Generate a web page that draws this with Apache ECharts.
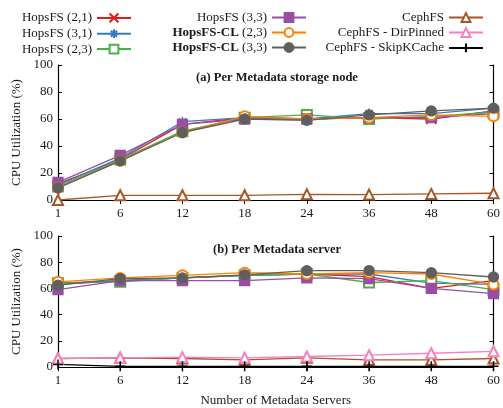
<!DOCTYPE html>
<html>
<head>
<meta charset="utf-8">
<script src="https://cdn.jsdelivr.net/npm/echarts@6/dist/echarts.min.js"></script>
<style>
  html, body { margin: 0; padding: 0; background: #fff; }
  #chart { width: 503px; height: 408px; }
</style>
</head>
<body>
<div id="chart"></div>
<script>
// Number of metadata servers (categorical x axis)
const servers = ['1', '6', '12', '18', '24', '36', '48', '60'];
const yTicks = [0, 20, 40, 60, 80, 100];

// (a) CPU utilization per metadata storage node (%)
const storageHops21 = [12, 30, 56, 61, 60, 61, 60, 66];
const storageHops31 = [11, 31, 58, 61, 60, 64, 64, 68];
const storageHops23 = [10, 30, 51, 61, 63, 60, 62, 65];
const storageHops33 = [13, 33, 56, 60, 60, 61, 61, 64];
const storageCL23   = [9, 29, 50, 62, 60, 61, 63, 62];
const storageCL33   = [9, 29, 50, 60, 59, 63, 66, 68];
const storageCeph   = [0, 3.5, 3.5, 3.5, 4.2, 4, 4.5, 5];

// (b) CPU utilization per metadata server (%)
const serverHops21 = [63, 66, 68, 70, 71, 69, 60, 66];
const serverHops31 = [64, 66, 68, 70, 71, 71, 64, 63];
const serverHops23 = [64, 65, 68, 70, 71, 64.5, 66, 59];
const serverHops33 = [59, 66, 66, 66, 68, 67.5, 60, 56];
const serverCL23   = [65, 68, 70, 72, 71, 72, 71, 63];
const serverCL33   = [62.5, 67.5, 68, 70.4, 73.5, 73.6, 72, 68.7];
const serverCeph   = [6.5, 7, 6.5, 5.5, 7, 5.5, 5.5, 6.5];
const serverDirPin = [6.5, 7, 7.5, 7, 8, 9, 10.5, 12];
const serverSkipK  = [2, 0.5, 0.5, 0.5, 0.5, 0.5, 0.5, 0.5];

const FONT = 'Liberation Serif';
const TXT = '#1a1a1a';

const CROSS = 'path://M0,0 L10,10 M10,0 L0,10';
const STAR = 'path://M5,0 L5,10 M0,5 L10,5 M1.5,1.5 L8.5,8.5 M8.5,1.5 L1.5,8.5';
const PLUS = 'path://M5,0 L5,10 M0,5 L10,5';

// name -> [colour, symbol, closed shape]
const styles = {
  'HopsFS (2,1)':       ['#e41a1c', CROSS, false],
  'HopsFS (3,1)':       ['#377eb8', STAR, false],
  'HopsFS (2,3)':       ['#4daf4a', 'emptyRect', true],
  'HopsFS (3,3)':       ['#984ea3', 'rect', true],
  'HopsFS-CL (2,3)':    ['#ff7f00', 'emptyCircle', true],
  'HopsFS-CL (3,3)':    ['#5f5f5f', 'circle', true],
  'CephFS':             ['#a65628', 'emptyTriangle', true],
  'CephFS - DirPinned': ['#f781bf', 'emptyTriangle', true],
  'CephFS - SkipKCache':['#000000', PLUS, false]
};

function mk(name, data, gi) {
  const [color, symbol, closed] = styles[name];
  return {
    name, type: 'line', data,
    xAxisIndex: gi * 2, yAxisIndex: gi * 2,
    symbol, symbolSize: 10,
    showSymbol: true,
    lineStyle: { color, width: 1.3 },
    itemStyle: closed ? { color, borderColor: color, borderWidth: 1.3 }
                      : { color: 'none', borderColor: color, borderWidth: 1.5 },
    emphasis: { disabled: true },
    animation: false
  };
}

const series = [
  mk('HopsFS (2,1)', storageHops21, 0),
  mk('HopsFS (3,1)', storageHops31, 0),
  mk('HopsFS (2,3)', storageHops23, 0),
  mk('HopsFS (3,3)', storageHops33, 0),
  mk('HopsFS-CL (2,3)', storageCL23, 0),
  mk('HopsFS-CL (3,3)', storageCL33, 0),
  mk('CephFS', storageCeph, 0),
  mk('HopsFS (2,1)', serverHops21, 1),
  mk('HopsFS (3,1)', serverHops31, 1),
  mk('HopsFS (2,3)', serverHops23, 1),
  mk('HopsFS (3,3)', serverHops33, 1),
  mk('HopsFS-CL (2,3)', serverCL23, 1),
  mk('HopsFS-CL (3,3)', serverCL33, 1),
  mk('CephFS', serverCeph, 1),
  mk('CephFS - DirPinned', serverDirPin, 1),
  mk('CephFS - SkipKCache', serverSkipK, 1)
];

const grids = [
  { left: 58, right: 7, top: 65, height: 135 },
  { left: 58, right: 7, top: 236, height: 135.5 }
];

function xAxes(gi) {
  const base = {
    type: 'category', data: servers, gridIndex: gi, boundaryGap: false,
    axisLine: { lineStyle: { color: '#000', width: 1.2 } },
    axisTick: { inside: true, length: 4, alignWithLabel: true, lineStyle: { color: '#000' } },
    splitLine: { show: false }
  };
  return [
    Object.assign({}, base, {
      position: 'bottom',
      axisLabel: { fontFamily: FONT, fontSize: 13, color: TXT, margin: 7 },
      name: gi === 1 ? 'Number of Metadata Servers' : '',
      nameLocation: 'middle', nameGap: 27,
      nameTextStyle: { fontFamily: FONT, fontSize: 13, color: TXT }
    }),
    Object.assign({}, base, { position: 'top', axisLabel: { show: false } })
  ];
}

function yAxes(gi) {
  const base = {
    type: 'value', gridIndex: gi, min: 0, max: 100, interval: 20,
    axisLine: { show: true, lineStyle: { color: '#000', width: 1.2 } },
    axisTick: { show: true, inside: true, length: 4, lineStyle: { color: '#000' } },
    splitLine: { show: false }
  };
  return [
    Object.assign({}, base, {
      position: 'left',
      axisLabel: { fontFamily: FONT, fontSize: 13, color: TXT, margin: 5,
                   formatter: v => yTicks.includes(v) ? String(v) : '' },
      name: 'CPU Utilization (%)', nameLocation: 'middle', nameGap: 35,
      nameTextStyle: { fontFamily: FONT, fontSize: 13, color: TXT }
    }),
    Object.assign({}, base, { position: 'right', axisLabel: { show: false } })
  ];
}

const rich = { b: { fontFamily: FONT, fontSize: 13, fontWeight: 'bold', color: TXT } };
function legendFmt(name) {
  if (name.startsWith('HopsFS-CL')) return '{b|HopsFS-CL}' + name.slice(9);
  return name;
}
function legend(names, right) {
  return {
    data: names, orient: 'vertical', align: 'right', right, top: 11,
    itemWidth: 34, itemHeight: 11, itemGap: 2, padding: 0,
    textStyle: { fontFamily: FONT, fontSize: 13, color: TXT, rich },
    formatter: legendFmt, selectedMode: false
  };
}

const titleRich = {
  b: { fontFamily: FONT, fontSize: 12.5, fontWeight: 'bold', color: TXT },
  n: { fontFamily: FONT, fontSize: 12.5, color: TXT }
};

const option = {
  backgroundColor: '#fff',
  animation: false,
  title: [
    { text: '{b|(a)}{n| Per Metadata storage node}', left: 277, top: 71, textAlign: 'center',
      textStyle: { rich: titleRich }, padding: 0 },
    { text: '{b|(b)}{n| Per Metadata server}', left: 277, top: 243, textAlign: 'center',
      textStyle: { rich: titleRich }, padding: 0 }
  ],
  legend: [
    legend(['HopsFS (2,1)', 'HopsFS (3,1)', 'HopsFS (2,3)'], 371),
    legend(['HopsFS (3,3)', 'HopsFS-CL (2,3)', 'HopsFS-CL (3,3)'], 196),
    legend(['CephFS', 'CephFS - DirPinned', 'CephFS - SkipKCache'], 19)
  ],
  grid: grids,
  xAxis: [...xAxes(0), ...xAxes(1)],
  yAxis: [...yAxes(0), ...yAxes(1)],
  series
};

const chart = echarts.init(document.getElementById('chart'), null, { renderer: 'canvas' });
chart.setOption(option);
</script>
</body>
</html>
